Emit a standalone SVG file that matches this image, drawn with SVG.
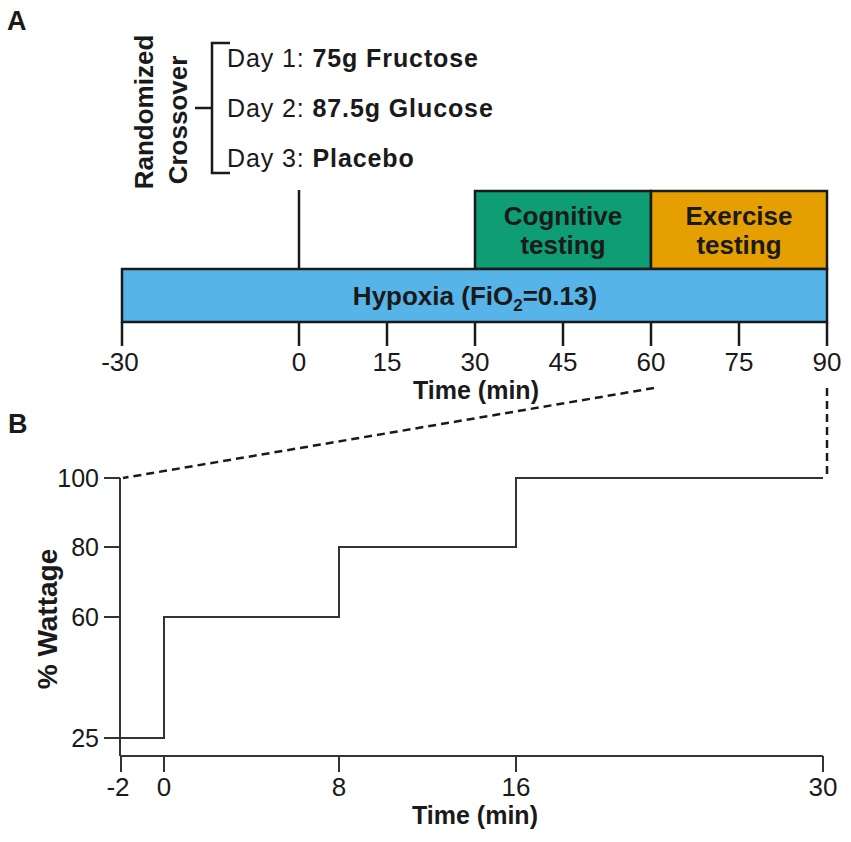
<svg xmlns="http://www.w3.org/2000/svg" width="851" height="842" viewBox="0 0 851 842">
<style>
  text { font-family: "Liberation Sans", Arial, sans-serif; fill: #1a1a1a; }
  .b { font-weight: bold; }
  .panel { font-size: 27px; font-weight: bold; }
  .tick { font-size: 26px; text-anchor: middle; }
  .box { font-size: 26px; font-weight: bold; text-anchor: middle; }
  .day { font-size: 25px; letter-spacing: 0.9px; }
  .ln { stroke: #1a1a1a; stroke-width: 2.5; fill: none; }
  .ln2 { stroke: #333; stroke-width: 2; fill: none; }
  .dash { stroke: #1a1a1a; stroke-width: 2.5; fill: none; stroke-dasharray: 8 5; }
</style>

<text class="panel" x="7" y="30">A</text>
<text class="panel" x="8" y="433">B</text>

<g id="crossover">
  <text class="b" font-size="26" text-anchor="middle" transform="translate(153,112) rotate(-90)">Randomized</text>
  <text class="b" font-size="26" text-anchor="middle" transform="translate(187,120) rotate(-90)">Crossover</text>
  <path class="ln" d="M230,43 H212 V173 H230 M195,108 H212"/>
  <text class="day" x="227" y="67">Day 1: <tspan class="b">75g Fructose</tspan></text>
  <text class="day" x="227" y="117">Day 2: <tspan class="b">87.5g Glucose</tspan></text>
  <text class="day" x="227" y="167">Day 3: <tspan class="b">Placebo</tspan></text>
</g>

<g id="cognitive">
  <rect x="475" y="191" width="176" height="78" fill="#0f9e74" stroke="#1a1a1a" stroke-width="2.5"/>
  <text class="box" x="563" y="225">Cognitive</text>
  <text class="box" x="563" y="254">testing</text>
</g>
<g id="exercise">
  <rect x="651" y="191" width="176" height="78" fill="#E69F00" stroke="#1a1a1a" stroke-width="2.5"/>
  <text class="box" x="739" y="225">Exercise</text>
  <text class="box" x="739" y="254">testing</text>
</g>
<g id="hypoxia">
  <rect x="122" y="269" width="705" height="53" fill="#56B4E9" stroke="#1a1a1a" stroke-width="2.5"/>
  <text class="box" x="475" y="305">Hypoxia (FiO<tspan font-size="17" dy="6">2</tspan><tspan dy="-6">=0.13)</tspan></text>
</g>

<g id="axisA">
  <line class="ln" x1="299" y1="190" x2="299" y2="269"/>
  <path class="ln" d="M122,322 V346 M299,322 V346 M387,322 V346 M475,322 V346 M563,322 V346 M651,322 V346 M739,322 V346 M827,322 V346"/>
  <text class="tick" x="120" y="371">-30</text>
  <text class="tick" x="299" y="371">0</text>
  <text class="tick" x="387" y="371">15</text>
  <text class="tick" x="475" y="371">30</text>
  <text class="tick" x="563" y="371">45</text>
  <text class="tick" x="651" y="371">60</text>
  <text class="tick" x="739" y="371">75</text>
  <text class="tick" x="827" y="371">90</text>
  <text class="b" font-size="25" text-anchor="middle" x="476" y="399">Time (min)</text>
</g>

<g id="connectors">
  <line class="dash" x1="654" y1="388" x2="123" y2="478"/>
  <line class="dash" x1="827" y1="388" x2="827" y2="478"/>
</g>

<g id="chartB">
  <path class="ln2" d="M120,478 V756 M104,478 H120 M104,547 H120 M104,617 H120 M104,738 H120"/>
  <path class="ln2" d="M120,756 H823 M121,756 V772 M164,756 V772 M339,756 V772 M516,756 V772 M823,756 V772"/>
  <path class="ln2" d="M120,738 H164 V617 H339 V547 H516 V478 H823"/>
  <text font-size="25" text-anchor="end" x="99" y="487">100</text>
  <text font-size="25" text-anchor="end" x="99" y="556">80</text>
  <text font-size="25" text-anchor="end" x="99" y="626">60</text>
  <text font-size="25" text-anchor="end" x="99" y="747">25</text>
  <text class="tick" font-size="25" x="118" y="796">-2</text>
  <text class="tick" font-size="25" x="164" y="796">0</text>
  <text class="tick" font-size="25" x="339" y="796">8</text>
  <text class="tick" font-size="25" x="516" y="796">16</text>
  <text class="tick" font-size="25" x="823" y="796">30</text>
  <text class="b" font-size="25" text-anchor="middle" x="475" y="824">Time (min)</text>
  <text class="b" font-size="28" text-anchor="middle" transform="translate(57,619) rotate(-90)">% Wattage</text>
</g>
</svg>
